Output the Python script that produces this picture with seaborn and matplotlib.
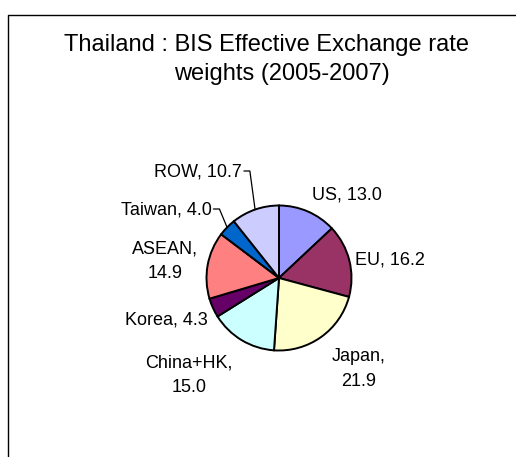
import numpy as np
import matplotlib
matplotlib.use("Agg")
import matplotlib.pyplot as plt
from matplotlib.lines import Line2D
import seaborn as sns

sns.set_theme(style="white")
plt.rcParams['font.family'] = ['Liberation Sans', 'DejaVu Sans']

# data
partners = ["US", "EU", "Japan", "China+HK", "Korea", "ASEAN", "Taiwan", "ROW"]
weights = [13.0, 16.2, 21.9, 15.0, 4.3, 14.9, 4.0, 10.7]
label_text = ["US, 13.0", "EU, 16.2", "Japan,\n21.9", "China+HK,\n15.0",
              "Korea, 4.3", "ASEAN,\n14.9", "Taiwan, 4.0", "ROW, 10.7"]
slice_colors = ["#9999FF", "#993366", "#FFFFCC", "#CCFFFF",
                "#660066", "#FF8080", "#0066CC", "#CCCCFF"]
title_lines = ["Thailand : BIS Effective Exchange rate", "weights (2005-2007)"]

# layout (pixels of the 516x457 canvas)
W, H = 516, 457
cx, cy, R = 279, 278, 72.5
label_px = [(347, 195), (390, 260), (359, 369), (189, 375),
            (166, 320), (165, 261), (166, 210), (198, 172)]
leader = {"Taiwan", "ROW"}

fig = plt.figure(figsize=(W / 100, H / 100), dpi=100)
ax = fig.add_axes([0, 0, 1, 1])

wedges, _ = ax.pie(weights, colors=sns.color_palette(slice_colors), startangle=90,
                   counterclock=False, radius=1,
                   wedgeprops=dict(edgecolor="black", linewidth=1.4))
ax.set_xlim(-cx / R, (W - cx) / R)
ax.set_ylim(-(H - cy) / R, cy / R)
ax.set_aspect("auto")
ax.axis("off")

def to_data(px, py):
    return (px - cx) / R, (cy - py) / R

texts = []
for name, txt, (px, py) in zip(partners, label_text, label_px):
    x, y = to_data(px, py)
    t = ax.text(x, y, txt, ha="center", va="center", fontsize=13,
                multialignment="center", linespacing=1.55, color="black")
    texts.append(t)

fig.canvas.draw()
renderer = fig.canvas.get_renderer()
inv = ax.transData.inverted()
for name, t, w in zip(partners, texts, wedges):
    if name not in leader:
        continue
    bb = t.get_window_extent(renderer)
    x0, y0 = inv.transform((bb.x1 + 2, (bb.y0 + bb.y1) / 2 + 1))
    x1 = x0 + 6 / R
    mid = np.deg2rad((w.theta1 + w.theta2) / 2)
    ex, ey = np.cos(mid), np.sin(mid)
    ax.plot([x0, x1, ex], [y0, y0, ey], color="black", lw=0.9)

fig.text(267 / W, 1 - 45 / H, title_lines[0], ha="center", va="center",
         fontsize=17, color="black")
fig.text(282 / W, 1 - 74 / H, title_lines[1], ha="center", va="center",
         fontsize=17, color="black")

# chart-area border (only left and top edges are inside the crop)
fig.add_artist(Line2D([8 / W, 8 / W, 1.01], [-0.01, 1 - 15 / H, 1 - 15 / H],
                      transform=fig.transFigure, color="black", lw=1.0))

fig.savefig("out.png", dpi=100)
